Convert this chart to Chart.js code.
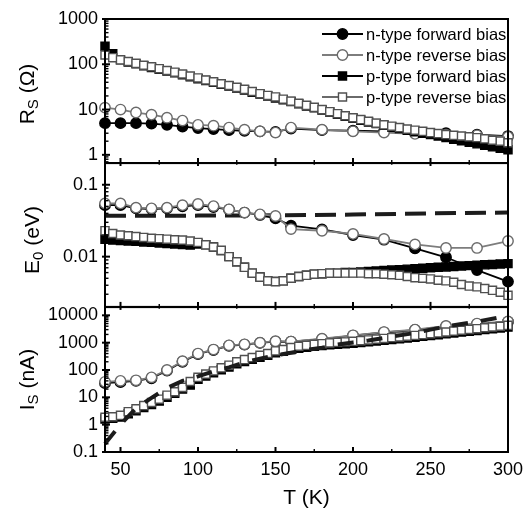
<!DOCTYPE html>
<html>
<head>
<meta charset="utf-8">
<script src="https://cdn.jsdelivr.net/npm/chart.js@4.4.0/dist/chart.umd.min.js"></script>
<style>
  html, body { margin: 0; padding: 0; background: #fff; }
  #wrap { position: relative; width: 525px; height: 514px; overflow: hidden; }
  canvas { position: absolute; left: 0; }
</style>
</head>
<body>
<div id="wrap">
  <canvas id="rs" width="525" height="171" style="top:0px"></canvas>
  <canvas id="e0" width="525" height="158" style="top:156px"></canvas>
  <canvas id="is" width="525" height="214" style="top:300px"></canvas>
</div>
<script>
// temperatures (K)
const tN = [40, 50, 60, 70, 80, 90, 100, 110, 120, 130, 140, 150, 160, 180, 200, 220, 240, 260, 280, 300];
const tP = [
  40, 45, 50, 55, 60, 65, 70, 75, 80, 85,
  90, 95, 100, 105, 110, 115, 120, 125, 130, 135,
  140, 145, 150, 155, 160, 165, 170, 175, 180, 185,
  190, 195, 200, 205, 210, 215, 220, 225, 230, 235,
  240, 245, 250, 255, 260, 265, 270, 275, 280, 285,
  290, 295, 300
];
const xTicks = [50, 75, 100, 125, 150, 175, 200, 225, 250, 275, 300];

// R_S (ohm)
const rsNF = [5.0, 5.0, 5.0, 4.9, 4.6, 4.2, 3.9, 3.7, 3.5, 3.4, 3.3, 3.2, 3.8, 3.5, 3.4, 3.3, 3.1, 3.0, 2.8, 2.6];
const rsNR = [11, 10, 8.6, 7.7, 6.6, 5.7, 4.6, 4.4, 4.0, 3.6, 3.3, 3.1, 4.0, 3.6, 3.3, 3.1, 2.9, 2.8, 2.7, 2.5];
const rsPF = [
  250, 170, 125, 112, 102, 93, 85, 78, 71, 65,
  59, 53, 48, 44, 40, 36, 33, 30, 27, 24,
  22, 20, 18, 16.5, 15, 13.5, 12, 11, 9.8, 8.8,
  7.9, 7.1, 6.4, 5.8, 5.3, 4.9, 4.5, 4.1, 3.8, 3.5,
  3.25, 3.0, 2.8, 2.6, 2.4, 2.2, 2.05, 1.9, 1.75, 1.62,
  1.5, 1.4, 1.3
];
const rsPR = [
  160, 140, 125, 115, 105, 95, 88, 80, 73, 67,
  61, 55, 50, 45, 41, 37, 34, 31, 28, 25,
  22.5, 20.5, 19, 17, 15.3, 13.8, 12.4, 11.2, 10.0, 9.0,
  8.1, 7.3, 6.6, 6.0, 5.5, 5.0, 4.6, 4.3, 4.0, 3.7,
  3.5, 3.3, 3.1, 2.95, 2.8, 2.7, 2.6, 2.5, 2.4, 2.25,
  2.1, 2.0, 1.85
];

// E_0 (eV)
const e0NF = [0.052, 0.052, 0.047, 0.046, 0.047, 0.05, 0.052, 0.049, 0.045, 0.041, 0.038, 0.034, 0.027, 0.024, 0.020, 0.0172, 0.013, 0.0098, 0.0065, 0.0045];
const e0NR = [0.055, 0.055, 0.048, 0.047, 0.048, 0.052, 0.054, 0.0505, 0.0455, 0.041, 0.0388, 0.0368, 0.0242, 0.0229, 0.0207, 0.0176, 0.0148, 0.0132, 0.0132, 0.0165];
const e0PF = [
  0.0175, 0.017, 0.0168, 0.0165, 0.0163, 0.016, 0.0158, 0.0155, 0.0152, 0.015,
  0.0148, 0.0145, 0.015, 0.0146, 0.0136, 0.0122, 0.0100, 0.0085, 0.0071, 0.0059,
  0.0052, 0.0046, 0.0045, 0.0046, 0.0050, 0.0053, 0.0055, 0.0057, 0.0058, 0.0059,
  0.0059, 0.006, 0.006, 0.0061, 0.0062, 0.0063, 0.0064, 0.0065, 0.0066, 0.0067,
  0.0068, 0.0069, 0.007, 0.0071, 0.0072, 0.0073, 0.0074, 0.0075, 0.0076, 0.0077,
  0.0078, 0.0079, 0.008
];
const e0PR = [
  0.023, 0.021, 0.020, 0.0195, 0.019, 0.0185, 0.018, 0.0178, 0.0175, 0.0172,
  0.017, 0.0165, 0.0158, 0.0146, 0.0136, 0.0122, 0.0100, 0.0085, 0.0071, 0.0059,
  0.0052, 0.0046, 0.0045, 0.0046, 0.0050, 0.0053, 0.0055, 0.0057, 0.0058, 0.0059,
  0.0059, 0.0059, 0.0059, 0.0059, 0.0058, 0.0058, 0.0057, 0.0056, 0.0055, 0.0053,
  0.0051, 0.0050, 0.0049, 0.0047, 0.0046, 0.0044, 0.0041, 0.0039, 0.0038, 0.0036,
  0.0034, 0.0032, 0.0029
];
const tE0Dash = [40, 100, 150, 200, 250, 300];
const e0Dash = [0.037, 0.0372, 0.0376, 0.0385, 0.040, 0.041];

// I_S (nA)
const isNF = [33, 36, 40, 50, 95, 200, 380, 540, 770, 850, 980, 1100, 1080, 1350, 1800, 2350, 2900, 3900, 4800, 5800];
const isNR = [37, 40, 42, 54, 100, 210, 400, 560, 800, 870, 1000, 1130, 1100, 1400, 1860, 2450, 3000, 4100, 5000, 6000];
const isPF = [
  1.6, 1.7, 1.9, 2.5, 3.2, 4.2, 5.5, 7.3, 10, 14,
  20, 28, 46, 60, 80, 102, 128, 170, 205, 245,
  295, 345, 425, 480, 560, 630, 680, 740, 790, 840,
  880, 920, 960, 1010, 1080, 1150, 1220, 1300, 1380, 1480,
  1580, 1700, 1820, 1950, 2100, 2270, 2450, 2620, 2800, 3000,
  3220, 3450, 3700
];
const isPR = [
  1.87, 1.95, 2.2, 3.0, 3.8, 5.0, 6.5, 8.6, 12, 16,
  23, 38, 54, 71, 93, 120, 150, 200, 240, 285,
  345, 400, 500, 560, 660, 740, 800, 870, 920, 980,
  1030, 1070, 1120, 1180, 1260, 1350, 1430, 1530, 1620, 1730,
  1850, 1980, 2120, 2280, 2450, 2650, 2850, 3050, 3250, 3500,
  3750, 4000, 4300
];
const tIsDash = [40, 50, 60, 70, 80, 90, 100, 110, 120, 130, 140, 150, 160, 170, 180, 190, 200, 210, 220, 230, 240, 250, 260, 270, 280, 290, 300];
const isDash = [0.2, 1.0, 4, 9.5, 22, 40, 58, 90, 125, 190, 260, 340, 430, 540, 650, 850, 1020, 1200, 1470, 1850, 2250, 3000, 3900, 4800, 5900, 7500, 9800];

const FONT = '"Liberation Sans", Arial, Helvetica, sans-serif';
Chart.defaults.font.family = FONT;
Chart.defaults.color = '#000';

const series = {
  nF: { label: 'n-type forward bias', line: '#000', fill: '#000', edge: '#000', shape: 'circle', r: 5.2 },
  nR: { label: 'n-type reverse bias', line: '#7d7d7d', fill: '#fff', edge: '#6a6a6a', shape: 'circle', r: 5.2 },
  pF: { label: 'p-type forward bias', line: '#000', fill: '#000', edge: '#000', shape: 'rect', r: 5.7 },
  pR: { label: 'p-type reverse bias', line: '#6a6a6a', fill: '#fff', edge: '#505050', shape: 'rect', r: 5.7 }
};
const legendKeys = ['nF', 'nR', 'pF', 'pR'];

function pts(xs, ys) {
  return xs.map((x, i) => ({ x: x, y: ys[i] }));
}

function ds(key, xs, ys, order) {
  const s = series[key];
  return {
    label: s.label, data: pts(xs, ys), order: order,
    borderColor: s.line, borderWidth: 1.8, tension: 0,
    pointStyle: s.shape, pointRadius: s.r,
    pointBackgroundColor: s.fill, pointBorderColor: s.edge, pointBorderWidth: 1.4,
    clip: false
  };
}

function dashed(xs, ys, dash, order) {
  return {
    data: pts(xs, ys), order: order,
    borderColor: '#1c1c1c', borderWidth: 4, borderDash: dash,
    pointRadius: 0, clip: false
  };
}

// frame round the plot area plus tick marks
const frame = {
  id: 'frame',
  afterDatasetsDraw(chart, args, o) {
    const { ctx, chartArea: a, scales } = chart;
    ctx.save();
    ctx.strokeStyle = '#000';
    ctx.lineWidth = 2;
    ctx.strokeRect(a.left, a.top, a.right - a.left, a.bottom - a.top);
    // log ticks on the left
    const y = scales.y;
    y.ticks.forEach(t => {
      const e = Math.floor(Math.log10(t.value) + 1e-9);
      const m = t.value / Math.pow(10, e);
      if (Math.abs(m - Math.round(m)) > 1e-6) return;
      const major = Math.abs(m - 1) < 1e-6;
      const py = y.getPixelForValue(t.value);
      ctx.lineWidth = major ? 2 : 1.4;
      ctx.beginPath();
      ctx.moveTo(a.left - (major ? 3 : 0), py);
      ctx.lineTo(a.left + (major ? 5 : 3.5), py);
      ctx.stroke();
    });
    // T ticks along the bottom edge
    const x = chart.scales.x;
    xTicks.forEach(v => {
      const major = v % 50 === 0;
      const px = x.getPixelForValue(v);
      ctx.lineWidth = major ? 2 : 1.4;
      ctx.beginPath();
      ctx.moveTo(px, a.bottom - (major ? 5 : 3));
      ctx.lineTo(px, a.bottom + (major ? o.down : o.down * 0.6));
      ctx.stroke();
    });
    ctx.restore();
  }
};

// rotated y title with a subscript
const yTitle = {
  id: 'yTitle',
  afterDraw(chart, args, o) {
    const { ctx, chartArea: a } = chart;
    const big = '21px ' + FONT, small = '15px ' + FONT;
    ctx.save();
    ctx.translate(o.x, (a.top + a.bottom) / 2 + (o.dy || 0));
    ctx.rotate(-Math.PI / 2);
    ctx.fillStyle = '#000';
    ctx.textBaseline = 'middle';
    ctx.font = big;
    const w1 = ctx.measureText(o.main).width, w3 = ctx.measureText(o.rest).width;
    ctx.font = small;
    const w2 = ctx.measureText(o.sub).width;
    let cx = -(w1 + w2 + w3) / 2;
    ctx.font = big;
    ctx.fillText(o.main, cx, 0);
    cx += w1;
    ctx.font = small;
    ctx.fillText(o.sub, cx, 6);
    cx += w2;
    ctx.font = big;
    ctx.fillText(o.rest, cx, 0);
    ctx.restore();
  }
};

// line + marker key, top right of the upper panel
const keyBox = {
  id: 'keyBox',
  afterDraw(chart, args, o) {
    const ctx = chart.ctx;
    ctx.save();
    ctx.font = '16.5px ' + FONT;
    ctx.textBaseline = 'middle';
    legendKeys.forEach((k, i) => {
      const s = series[k], y = o.top + i * o.gap;
      ctx.strokeStyle = s.line;
      ctx.lineWidth = 1.8;
      ctx.beginPath();
      ctx.moveTo(o.x0, y);
      ctx.lineTo(o.x1, y);
      ctx.stroke();
      ctx.fillStyle = s.fill;
      ctx.strokeStyle = s.edge;
      ctx.lineWidth = 1.4;
      Chart.helpers.drawPoint(ctx, { pointStyle: s.shape, radius: s.r, rotation: 0, borderWidth: 1.4 }, (o.x0 + o.x1) / 2, y);
      ctx.fillStyle = '#000';
      ctx.fillText(s.label, o.tx, y + 1);
    });
    ctx.restore();
  }
};

function yAxis(min, max) {
  return {
    type: 'logarithmic', min: min, max: max,
    border: { display: false },
    grid: { display: false, drawTicks: false },
    ticks: {
      padding: 7, autoSkip: false, font: { size: 18 },
      callback: v => {
        const l = Math.log10(v);
        return Math.abs(l - Math.round(l)) < 1e-6 ? String(v) : '';
      }
    },
    afterFit: s => { s.width = 105; s.paddingTop = 0; s.paddingBottom = 0; }
  };
}

function hiddenX() {
  return { type: 'linear', min: 40, max: 300, display: false };
}

function panel(id, cfg) {
  const plugins = [frame, yTitle];
  if (cfg.key) plugins.push(keyBox);
  return new Chart(document.getElementById(id), {
    type: 'line',
    data: { datasets: cfg.datasets },
    options: {
      responsive: false, animation: false, events: [],
      layout: { padding: cfg.padding },
      scales: { x: cfg.x, y: yAxis(cfg.min, cfg.max) },
      plugins: {
        legend: { display: false }, tooltip: { enabled: false },
        frame: { down: cfg.down }, yTitle: cfg.title, keyBox: cfg.key || {}
      }
    },
    plugins: plugins
  });
}

panel('rs', {
  padding: { top: 19, right: 17, bottom: 8, left: 0 },
  x: hiddenX(), min: 0.66, max: 1000, down: 3,
  title: { x: 28, main: 'R', sub: 'S', rest: ' (\u03A9)', dy: 3 },
  key: { top: 34, gap: 21, x0: 322, x1: 363, tx: 366 },
  datasets: [
    ds('pR', tP, rsPR, 1), ds('pF', tP, rsPF, 2),
    ds('nR', tN, rsNR, 3), ds('nF', tN, rsNF, 4)
  ]
});

panel('e0', {
  padding: { top: 7, right: 17, bottom: 7, left: 0 },
  x: hiddenX(), min: 0.002, max: 0.2, down: 3,
  title: { x: 33, main: 'E', sub: '0', rest: ' (eV)', dy: 5 },
  datasets: [
    ds('pR', tP, e0PR, 1), ds('pF', tP, e0PF, 2),
    ds('nR', tN, e0NR, 3), ds('nF', tN, e0NF, 4),
    dashed(tE0Dash, e0Dash, [21, 9], 5)
  ]
});

panel('is', {
  padding: { top: 7, right: 17, bottom: 0, left: 0 },
  min: 0.1, max: 20000, down: 0,
  title: { x: 28, main: 'I', sub: 'S', rest: ' (nA)', dy: 0 },
  x: {
    type: 'linear', min: 40, max: 300,
    border: { display: false },
    grid: { display: false, drawTicks: false },
    afterBuildTicks: s => { s.ticks = xTicks.map(v => ({ value: v })); },
    ticks: {
      padding: 7, autoSkip: false, maxRotation: 0, font: { size: 18 },
      callback: v => (v % 50 === 0 ? String(v) : '')
    },
    title: { display: true, text: 'T (K)', font: { size: 21 }, padding: { top: 0, bottom: 3 } },
    afterFit: s => { s.height = 62; s.paddingLeft = 0; s.paddingRight = 0; }
  },
  datasets: [
    dashed(tIsDash, isDash, [16, 13], 0),
    ds('pR', tP, isPR, 1), ds('pF', tP, isPF, 2),
    ds('nR', tN, isNR, 3), ds('nF', tN, isNF, 4)
  ]
});
</script>
</body>
</html>
